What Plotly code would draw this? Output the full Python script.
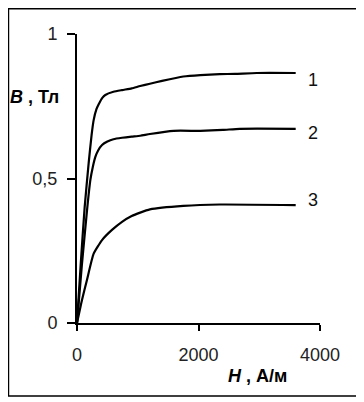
import plotly.graph_objects as go

# Curve 1
H1 = [0, 60, 126, 192, 240, 274, 320, 357, 420, 466, 600, 741, 900, 1040, 1200, 1400, 1750, 2030, 2350, 2600, 2960, 3600]
B1 = [0, 0.20, 0.40, 0.553, 0.65, 0.702, 0.74, 0.757, 0.78, 0.789, 0.80, 0.806, 0.812, 0.82, 0.828, 0.838, 0.853, 0.858, 0.861, 0.862, 0.865, 0.865]
# Curve 2
H2 = [0, 80, 165, 220, 260, 302, 350, 412, 500, 600, 741, 900, 1040, 1200, 1590, 2030, 2400, 2680, 3600]
B2 = [0, 0.20, 0.39, 0.495, 0.54, 0.575, 0.598, 0.616, 0.628, 0.636, 0.641, 0.645, 0.648, 0.654, 0.665, 0.665, 0.668, 0.672, 0.672]
# Curve 3
H3 = [0, 82, 165, 274, 412, 576, 741, 900, 1040, 1200, 1750, 2350, 3600]
B3 = [0, 0.08, 0.15, 0.24, 0.287, 0.322, 0.35, 0.37, 0.382, 0.393, 0.405, 0.41, 0.408]

curve_labels = ["1", "2", "3"]
label_x = 3885
label_y = [0.841, 0.657, 0.426]

x_ticks = [0, 2000, 4000]
x_ticktext = ["0", "2000", "4000"]
y_ticks = [0, 0.5, 1]
y_ticktext = ["0", "0,5", "1"]

FONT = "Liberation Sans, Arial, sans-serif"

fig = go.Figure()
for H, B in [(H1, B1), (H2, B2), (H3, B3)]:
    fig.add_trace(go.Scatter(x=H, y=B, mode="lines",
                             line=dict(color="black", width=2.2,
                                       shape="spline", smoothing=0.5),
                             showlegend=False, hoverinfo="skip",
                             cliponaxis=False))

for t, y in zip(curve_labels, label_y):
    fig.add_annotation(x=label_x, y=y, text=t, showarrow=False,
                       xref="x", yref="y", xanchor="center", yanchor="middle",
                       font=dict(family=FONT, size=18, color="#111"))

fig.add_annotation(x=-0.176, y=0.781, xref="paper", yref="paper",
                   xanchor="center", yanchor="middle",
                   text="<b><i>B</i> , Тл</b>", showarrow=False,
                   font=dict(family=FONT, size=18, color="black"))
fig.add_annotation(x=0.741, y=-0.183, xref="paper", yref="paper",
                   xanchor="center", yanchor="middle",
                   text="<b><i>H</i> , А/м</b>", showarrow=False,
                   font=dict(family=FONT, size=18, color="black"))

fig.add_shape(type="rect", xref="paper", yref="paper",
              x0=-0.282, x1=1.152, y0=-0.253, y1=1.087,
              line=dict(color="black", width=1.5), fillcolor="rgba(0,0,0,0)")

fig.update_xaxes(range=[0, 4000], tickvals=x_ticks, ticktext=x_ticktext,
                 showline=True, linecolor="black", linewidth=2,
                 ticks="outside", ticklen=6, tickwidth=2, tickcolor="black",
                 showgrid=False, zeroline=False, ticklabelstandoff=8,
                 tickfont=dict(family=FONT, size=18, color="#222"))
fig.update_yaxes(range=[0, 1], tickvals=y_ticks, ticktext=y_ticktext,
                 showline=True, linecolor="black", linewidth=2,
                 ticks="outside", ticklen=8, tickwidth=2, tickcolor="black",
                 showgrid=False, zeroline=False, ticklabelstandoff=6,
                 tickfont=dict(family=FONT, size=18, color="#222"))

# the page body adds an 8px offset, so the figure is 8px smaller in each direction
fig.update_layout(width=356, height=394,
                  margin=dict(l=69, r=44, t=26, b=79),
                  plot_bgcolor="white", paper_bgcolor="white")

fig.write_html("out.html")
